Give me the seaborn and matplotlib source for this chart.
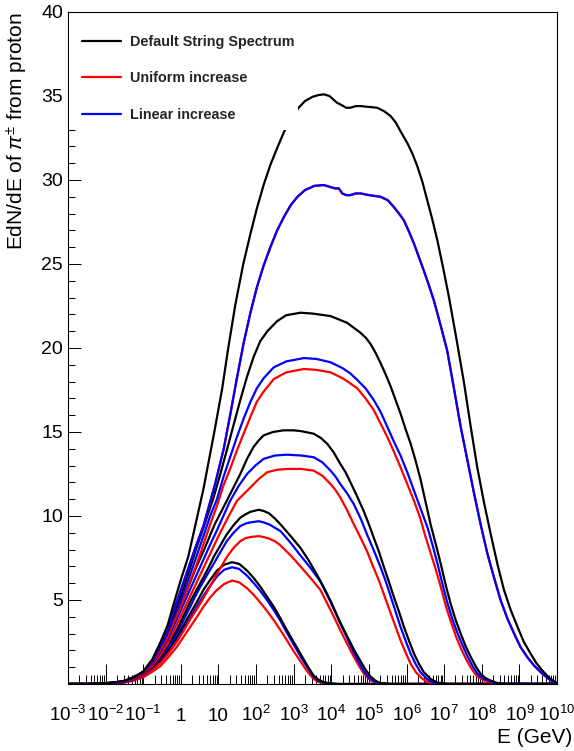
import numpy as np
import pandas as pd
import matplotlib
matplotlib.use("Agg")
import matplotlib.pyplot as plt
import seaborn as sns
from matplotlib.lines import Line2D
from matplotlib.patches import Rectangle

# ---------------- data: log10(E/GeV) and EdN/dE ----------------
g1_x = [-3, -2.5, -2, -1.75, -1.5, -1.25, -1, -0.78, -0.55, -0.33, -0.11, 0.07, 0.25, 0.43, 0.6, 0.78, 0.96, 1.15, 1.36, 1.55, 1.76, 1.94, 2.11, 2.29, 2.47, 2.65, 2.82, 3.0, 3.18, 3.36, 3.53, 3.66, 3.8, 4.0, 4.2, 10]
g1_black = [0, 0, 0.03, 0.06, 0.12, 0.27, 0.5, 0.9, 1.4, 2.05, 2.8, 3.5, 4.2, 4.9, 5.6, 6.2, 6.75, 7.1, 7.25, 7.15, 6.75, 6.3, 5.8, 5.2, 4.6, 3.9, 3.2, 2.5, 1.8, 1.1, 0.5, 0.25, 0.1, 0.03, 0, 0]
g1_blue = [0, 0, 0.03, 0.06, 0.11, 0.25, 0.47, 0.85, 1.3, 1.93, 2.6, 3.3, 3.95, 4.62, 5.25, 5.85, 6.4, 6.8, 6.95, 6.85, 6.45, 6.0, 5.55, 5.0, 4.4, 3.75, 3.05, 2.35, 1.65, 1.0, 0.42, 0.2, 0.08, 0.02, 0, 0]
g1_red = [0, 0, 0.02, 0.05, 0.09, 0.2, 0.4, 0.7, 1.05, 1.6, 2.2, 2.8, 3.4, 4.0, 4.6, 5.15, 5.6, 5.95, 6.16, 6.05, 5.7, 5.3, 4.85, 4.35, 3.8, 3.2, 2.6, 1.95, 1.35, 0.75, 0.3, 0.12, 0.04, 0.01, 0, 0]

g2k_x = [-3, -2.5, -2, -1.5, -1, -0.75, -0.52, -0.3, -0.11, 0.07, 0.25, 0.43, 0.6, 0.74, 0.87, 1.05, 1.22, 1.4, 1.58, 1.72, 1.85, 2.07, 2.2, 2.35, 2.5, 2.65, 2.92, 3.18, 3.4, 3.62, 3.8, 3.98, 4.11, 4.24, 4.42, 4.6, 4.78, 4.91, 5.04, 5.17, 5.3, 5.6, 10]
g2_black = [0, 0, 0.03, 0.13, 0.55, 1.05, 1.7, 2.45, 3.2, 4.05, 4.9, 5.65, 6.35, 6.95, 7.55, 8.25, 8.9, 9.45, 9.9, 10.1, 10.25, 10.37, 10.3, 10.15, 9.85, 9.5, 8.8, 8.1, 7.35, 6.5, 5.75, 4.95, 4.3, 3.65, 2.85, 2.05, 1.35, 0.85, 0.45, 0.2, 0.06, 0, 0]
g2_x = [-3, -2.5, -2, -1.5, -1, -0.75, -0.52, -0.3, -0.11, 0.07, 0.25, 0.38, 0.52, 0.7, 0.87, 1.05, 1.22, 1.4, 1.58, 1.72, 1.85, 2.07, 2.2, 2.35, 2.5, 2.65, 2.92, 3.18, 3.45, 3.71, 3.89, 4.07, 4.24, 4.42, 4.58, 4.73, 4.87, 5.0, 5.12, 5.25, 5.55, 10]
g2_blue = [0, 0, 0.03, 0.12, 0.52, 1.0, 1.6, 2.3, 3.0, 3.8, 4.6, 5.2, 5.8, 6.5, 7.15, 7.85, 8.5, 9.0, 9.4, 9.55, 9.62, 9.69, 9.62, 9.5, 9.3, 9.1, 8.4, 7.65, 6.9, 6.1, 5.3, 4.45, 3.6, 2.75, 1.95, 1.3, 0.75, 0.38, 0.17, 0.05, 0, 0]
g2_red = [0, 0, 0.02, 0.1, 0.45, 0.85, 1.3, 1.9, 2.5, 3.15, 3.85, 4.3, 4.8, 5.5, 6.2, 6.9, 7.55, 8.1, 8.5, 8.68, 8.75, 8.8, 8.75, 8.65, 8.5, 8.25, 7.65, 7.0, 6.3, 5.6, 4.8, 4.0, 3.2, 2.4, 1.7, 1.1, 0.6, 0.3, 0.13, 0.04, 0, 0]

g3k_x = [-3, -2.5, -2, -1.5, -1, -0.75, -0.52, -0.35, -0.2, 0, 0.2, 0.4, 0.6, 0.75, 0.9, 1.06, 1.22, 1.4, 1.58, 1.76, 1.93, 2.07, 2.2, 2.45, 2.73, 3.0, 3.2, 3.53, 3.72, 3.89, 4.06, 4.24, 4.38, 4.51, 4.68, 4.86, 5.0, 5.13, 5.27, 5.4, 5.53, 5.66, 5.8, 5.93, 6.07, 6.2, 6.33, 6.46, 6.64, 6.82, 7.1, 10]
g3_black = [0, 0, 0.03, 0.14, 0.62, 1.25, 2.1, 2.8, 3.6, 4.7, 5.8, 6.9, 7.9, 8.7, 9.5, 10.2, 10.9, 11.7, 12.5, 13.4, 14.1, 14.5, 14.8, 15.0, 15.1, 15.1, 15.05, 14.9, 14.65, 14.3, 13.8, 13.1, 12.6, 12.0, 11.2, 10.3, 9.5, 8.7, 7.85, 6.95, 6.1, 5.2, 4.3, 3.4, 2.55, 1.8, 1.2, 0.7, 0.3, 0.08, 0, 0]
g3b_x = [-3, -2.5, -2, -1.5, -1, -0.75, -0.52, -0.35, -0.2, 0, 0.2, 0.4, 0.6, 0.78, 0.95, 1.13, 1.31, 1.54, 1.76, 1.98, 2.2, 2.5, 2.82, 3.2, 3.53, 3.76, 3.98, 4.11, 4.24, 4.42, 4.6, 4.78, 4.95, 5.13, 5.31, 5.45, 5.58, 5.71, 5.84, 5.98, 6.11, 6.24, 6.37, 6.54, 6.7, 7.0, 10]
g3_blue = [0, 0, 0.03, 0.13, 0.6, 1.2, 2.0, 2.65, 3.4, 4.4, 5.4, 6.4, 7.4, 8.3, 9.1, 10.0, 10.9, 11.8, 12.5, 13.0, 13.4, 13.6, 13.65, 13.6, 13.5, 13.2, 12.7, 12.35, 11.9, 11.35, 10.7, 9.85, 8.9, 7.95, 6.95, 6.1, 5.2, 4.3, 3.4, 2.55, 1.8, 1.2, 0.7, 0.3, 0.08, 0, 0]
g3r_x = [-3, -2.5, -2, -1.5, -1, -0.75, -0.52, -0.35, -0.2, 0, 0.2, 0.4, 0.6, 0.8, 1.0, 1.25, 1.49, 1.67, 1.85, 2.07, 2.29, 2.55, 2.82, 3.2, 3.53, 3.76, 3.98, 4.11, 4.24, 4.42, 4.6, 4.78, 4.95, 5.1, 5.26, 5.42, 5.58, 5.71, 5.84, 5.98, 6.11, 6.25, 6.4, 6.55, 6.7, 7.0, 10]
g3_red = [0, 0, 0.02, 0.11, 0.55, 1.1, 1.8, 2.4, 3.1, 4.05, 5.0, 5.95, 6.9, 7.85, 8.8, 9.9, 10.9, 11.3, 11.7, 12.2, 12.6, 12.75, 12.8, 12.8, 12.7, 12.4, 11.9, 11.55, 11.1, 10.35, 9.5, 8.7, 7.9, 7.05, 6.2, 5.2, 4.2, 3.4, 2.6, 1.85, 1.2, 0.7, 0.35, 0.12, 0.03, 0, 0]

g4k_x = [-3, -2.5, -2, -1.5, -1, -0.75, -0.52, -0.35, -0.2, 0, 0.2, 0.4, 0.6, 0.87, 1.05, 1.22, 1.4, 1.58, 1.76, 1.94, 2.11, 2.3, 2.56, 2.8, 3.18, 3.5, 3.98, 4.2, 4.42, 4.6, 4.78, 4.92, 5.04, 5.18, 5.31, 5.45, 5.58, 5.71, 5.84, 5.97, 6.11, 6.24, 6.37, 6.5, 6.64, 6.78, 6.91, 7.04, 7.17, 7.3, 7.44, 7.57, 7.71, 7.84, 7.97, 8.1, 8.24, 8.4, 8.6, 10]
g4_black = [0, 0, 0.04, 0.16, 0.7, 1.4, 2.4, 3.2, 4.1, 5.3, 6.6, 8.0, 9.3, 11.1, 12.5, 13.9, 15.4, 16.9, 18.3, 19.5, 20.4, 21.0, 21.6, 21.95, 22.1, 22.05, 21.9, 21.7, 21.5, 21.2, 20.9, 20.6, 20.25, 19.7, 19.1, 18.4, 17.7, 16.9, 16.1, 15.2, 14.3, 13.3, 12.2, 10.9, 9.5, 8.3, 7.15, 5.9, 4.8, 3.85, 3.0, 2.25, 1.6, 1.05, 0.6, 0.35, 0.2, 0.07, 0.01, 0]
g4b_x = [-3, -2.5, -2, -1.5, -1, -0.75, -0.52, -0.35, -0.2, 0, 0.2, 0.4, 0.6, 0.78, 0.96, 1.13, 1.31, 1.49, 1.67, 1.85, 2.02, 2.2, 2.47, 2.8, 3.27, 3.6, 3.98, 4.3, 4.5, 4.69, 4.91, 5.13, 5.31, 5.49, 5.67, 5.84, 6.02, 6.2, 6.38, 6.56, 6.7, 6.83, 6.96, 7.09, 7.22, 7.36, 7.5, 7.63, 7.76, 7.89, 8.02, 8.16, 8.3, 8.5, 10]
g4_blue = [0, 0, 0.04, 0.15, 0.68, 1.35, 2.3, 3.05, 3.9, 5.0, 6.2, 7.5, 8.8, 10.0, 11.0, 12.3, 13.5, 14.7, 15.8, 16.8, 17.6, 18.2, 18.85, 19.2, 19.4, 19.35, 19.15, 18.8, 18.5, 18.1, 17.6, 16.9, 16.2, 15.3, 14.4, 13.6, 12.6, 11.5, 10.4, 9.3, 8.2, 7.1, 5.9, 4.8, 3.85, 3.0, 2.25, 1.6, 1.05, 0.6, 0.35, 0.2, 0.07, 0.01, 0]
g4r_x = [-3, -2.5, -2, -1.5, -1, -0.75, -0.52, -0.35, -0.2, 0, 0.2, 0.4, 0.6, 0.78, 0.96, 1.13, 1.31, 1.49, 1.67, 1.85, 2.02, 2.2, 2.47, 2.8, 3.27, 3.6, 3.98, 4.3, 4.5, 4.69, 4.91, 5.13, 5.31, 5.49, 5.67, 5.84, 6.02, 6.2, 6.36, 6.5, 6.64, 6.78, 6.92, 7.05, 7.18, 7.32, 7.46, 7.6, 7.73, 7.86, 8.0, 8.12, 8.3, 8.5, 10]
g4_red = [0, 0, 0.03, 0.13, 0.62, 1.25, 2.1, 2.8, 3.6, 4.6, 5.8, 7.0, 8.3, 9.5, 10.6, 11.8, 12.8, 13.9, 14.9, 15.9, 16.8, 17.4, 18.15, 18.55, 18.75, 18.7, 18.55, 18.2, 17.9, 17.6, 17.0, 16.3, 15.5, 14.7, 13.8, 12.9, 11.9, 10.9, 9.9, 8.8, 7.8, 6.8, 5.7, 4.6, 3.7, 2.8, 2.05, 1.4, 0.9, 0.5, 0.28, 0.15, 0.04, 0, 0]

g5k_x = [-3, -2.5, -2, -1.75, -1.5, -1.25, -1, -0.75, -0.52, -0.35, -0.2, 0, 0.2, 0.44, 0.6, 0.89, 1.1, 1.26, 1.45, 1.66, 1.85, 2.02, 2.2, 2.38, 2.56, 2.75, 2.95, 3.13, 3.3, 3.5, 3.65, 3.8, 3.95, 4.05, 4.15, 4.24, 4.4, 4.51, 4.65, 4.78, 5.0, 5.22, 5.4, 5.58, 5.72, 5.84, 6.02, 6.15, 6.29, 6.42, 6.55, 6.68, 6.82, 6.97, 7.13, 7.33, 7.53, 7.7, 7.88, 8.06, 8.24, 8.42, 8.59, 8.77, 8.95, 9.12, 9.3, 9.45, 9.61, 9.8, 10]
g5_black = [0, 0.01, 0.05, 0.1, 0.2, 0.4, 0.75, 1.5, 2.6, 3.5, 4.7, 6.2, 7.6, 10.0, 11.6, 15.0, 17.6, 20.0, 22.6, 25.0, 26.8, 28.3, 29.7, 30.9, 31.9, 32.9, 33.7, 34.3, 34.7, 34.95, 35.05, 35.1, 35.0, 34.8, 34.6, 34.5, 34.3, 34.3, 34.4, 34.4, 34.35, 34.3, 34.1, 33.8, 33.4, 32.9, 32.2, 31.6, 30.8, 29.9, 28.8, 27.7, 26.4, 24.8, 23.0, 20.5, 17.9, 15.4, 12.9, 10.8, 8.9, 7.1, 5.6, 4.4, 3.4, 2.5, 1.8, 1.25, 0.8, 0.35, 0.05]
g5_x = [-3, -2.5, -2, -1.75, -1.5, -1.25, -1, -0.75, -0.52, -0.35, -0.2, 0, 0.2, 0.4, 0.6, 0.91, 1.14, 1.31, 1.49, 1.67, 1.85, 2.02, 2.2, 2.38, 2.56, 2.74, 2.92, 3.1, 3.3, 3.55, 3.8, 3.95, 4.1, 4.2, 4.29, 4.4, 4.51, 4.65, 4.78, 5.0, 5.31, 5.5, 5.66, 5.8, 5.93, 6.07, 6.2, 6.33, 6.46, 6.6, 6.73, 6.9, 7.08, 7.26, 7.44, 7.62, 7.79, 7.97, 8.15, 8.33, 8.5, 8.68, 8.86, 9.03, 9.21, 9.39, 9.57, 9.75, 9.9, 10]
g5_blue = [0, 0.01, 0.05, 0.09, 0.17, 0.37, 0.72, 1.4, 2.45, 3.3, 4.3, 5.6, 6.9, 8.2, 9.4, 11.9, 14.0, 16.0, 18.2, 20.3, 22.1, 23.6, 24.9, 26.0, 27.0, 27.8, 28.5, 29.0, 29.4, 29.65, 29.7, 29.6, 29.5, 29.5, 29.2, 29.1, 29.1, 29.2, 29.2, 29.1, 29.0, 28.8, 28.4, 28.0, 27.6, 26.9, 26.2, 25.4, 24.6, 23.7, 22.8, 21.4, 19.85, 17.6, 15.3, 13.3, 11.4, 9.5, 7.75, 6.3, 5.0, 3.9, 3.0, 2.2, 1.6, 1.1, 0.7, 0.35, 0.12, 0.03]
g5_red = [0, 0.01, 0.05, 0.09, 0.17, 0.37, 0.72, 1.4, 2.45, 3.3, 4.3, 5.6, 6.9, 8.2, 9.4, 11.9, 14.0, 16.0, 18.2, 20.3, 22.1, 23.6, 24.9, 26.0, 27.0, 27.8, 28.5, 29.0, 29.4, 29.65, 29.7, 29.6, 29.5, 29.5, 29.2, 29.1, 29.1, 29.2, 29.2, 29.1, 29.0, 28.8, 28.4, 28.0, 27.6, 26.9, 26.2, 25.4, 24.6, 23.7, 22.8, 21.4, 19.85, 17.6, 15.3, 13.3, 11.4, 9.5, 7.75, 6.3, 5.0, 3.9, 3.0, 2.2, 1.6, 1.1, 0.7, 0.35, 0.12, 0.03]

legend_labels = ["Default String Spectrum", "Uniform increase", "Linear increase"]
xtick_labels = ["$10^{-3}$", "$10^{-2}$", "$10^{-1}$", "1", "10", "$10^{2}$", "$10^{3}$",
                "$10^{4}$", "$10^{5}$", "$10^{6}$", "$10^{7}$", "$10^{8}$", "$10^{9}$", "$10^{10}$"]
ytick_vals = [5, 10, 15, 20, 25, 30, 35, 40]

BLACK, RED, BLUE = "#000000", "#ff0000", "#0000ff"

# ---------------- style ----------------
sns.set_theme(style="white")
plt.rcParams["font.family"] = ["Liberation Sans", "DejaVu Sans"]
plt.rcParams["mathtext.fontset"] = "custom"
plt.rcParams["mathtext.rm"] = "Liberation Sans"
plt.rcParams["mathtext.it"] = "Liberation Sans:italic"
plt.rcParams["mathtext.bf"] = "Liberation Sans:bold"

fig = plt.figure(figsize=(5.74, 7.51), dpi=100)
ax = fig.add_axes([68 / 574, 1 - 684 / 751, 489 / 574, 672 / 751])

curves = [
    (g1_x, g1_red, RED), (g1_x, g1_blue, BLUE), (g1_x, g1_black, BLACK),
    (g2_x, g2_red, RED), (g2_x, g2_blue, BLUE), (g2k_x, g2_black, BLACK),
    (g3r_x, g3_red, RED), (g3b_x, g3_blue, BLUE), (g3k_x, g3_black, BLACK),
    (g4r_x, g4_red, RED), (g4b_x, g4_blue, BLUE), (g4k_x, g4_black, BLACK),
    (g5_x, g5_red, RED), (g5_x, g5_blue, BLUE), (g5k_x, g5_black, BLACK),
]
for xs, vs, col in curves:
    df = pd.DataFrame({"E": np.power(10.0, np.array(xs, dtype=float)), "v": vs})
    sns.lineplot(data=df, x="E", y="v", color=col, lw=1.6, ax=ax,
                 estimator=None, sort=False, legend=False)

ax.set_xscale("log")
ax.set_xlim(1e-3, 1e10)
ax.set_ylim(0, 40)

major = [10.0 ** k for k in range(-3, 11)]
minor = [m * 10.0 ** k for k in range(-3, 10) for m in range(2, 10)]
ax.set_xticks(major)
ax.set_xticklabels(xtick_labels)
ax.set_xticks(minor, minor=True)
ax.set_yticks(ytick_vals)
ax.set_yticks([v for v in range(1, 40) if v % 5 != 0], minor=True)
ax.tick_params(axis="x", which="major", direction="in", length=14.5, width=0.7,
               bottom=True, top=False, pad=26.5, labelsize=13.5, colors="black")
ax.tick_params(axis="x", which="minor", direction="in", length=6.5, width=0.7,
               bottom=True, top=False, labelbottom=False, colors="black")
ax.tick_params(axis="y", which="major", direction="in", length=9.4, width=0.7,
               left=True, right=False, pad=3.6, labelsize=14, colors="black")
ax.tick_params(axis="y", which="minor", direction="in", length=4.7, width=0.7,
               left=True, right=False, colors="black")
for t in ax.get_xticklabels():
    t.set_va("baseline")

for sp in ax.spines.values():
    sp.set_visible(True)
    sp.set_color("black")
    sp.set_linewidth(0.8)

ax.set_xlabel("E (GeV)", fontsize=15, loc="right", color="black")
ax.xaxis.set_label_coords(1.031, -0.0655)
ax.set_ylabel("EdN/dE of $\\pi^{\\pm}$ from proton", fontsize=15, loc="top", color="black")
ax.yaxis.set_label_coords(-0.078, 1.0)

rect = Rectangle((0.003, 0.824), 0.467, 0.173, transform=ax.transAxes,
                 facecolor="white", edgecolor="none", zorder=4)
ax.add_patch(rect)
handles = [Line2D([], [], color=BLACK, lw=1.6),
           Line2D([], [], color=RED, lw=1.6),
           Line2D([], [], color=BLUE, lw=1.6)]
leg = ax.legend(handles, legend_labels, loc="upper left", bbox_to_anchor=(0.0286, 0.966),
                frameon=False, borderpad=0, borderaxespad=0, handlelength=2.7,
                handletextpad=0.6, labelspacing=1.55,
                prop={"weight": "bold", "size": 10.4, "family": "Liberation Sans"})
leg.set_zorder(5)

fig.savefig("out.png", dpi=100)
